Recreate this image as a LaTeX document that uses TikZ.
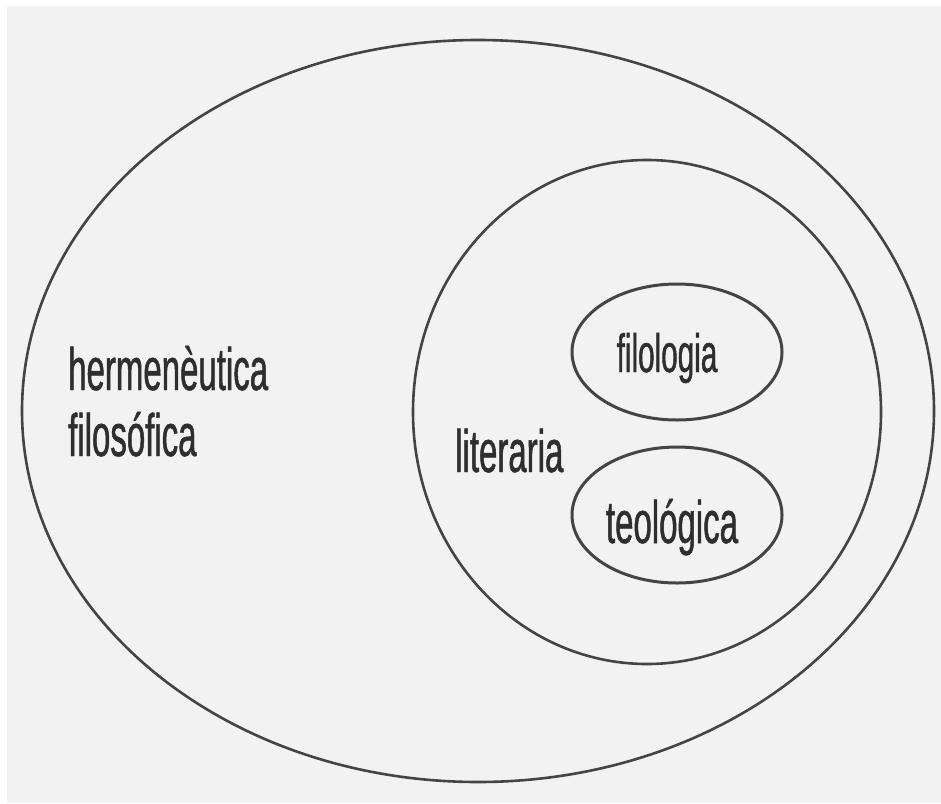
\documentclass[tikz,border=0pt]{standalone}
\usepackage{fontspec}
\newfontfamily\narrowfont[FakeStretch=0.55,FakeBold=0.8]{Liberation Sans}
\definecolor{bg}{HTML}{F2F2F2}
\definecolor{ln}{HTML}{444444}
\definecolor{tx}{HTML}{2E2E2E}
\begin{document}
\begin{tikzpicture}[x=1pt,y=-1pt,
  ring/.style={draw=ln,line width=2.6pt},
  lbl/.style={inner sep=0pt,text=tx,font=\narrowfont\fontsize{60}{62}\selectfont}]
\useasboundingbox (0,0) rectangle (941,803);
\fill[white] (0,0) rectangle (941,803);
\fill[bg] (7,6) rectangle (941,803);
\draw[ring] (478,411) ellipse [x radius=456, y radius=371];
\draw[ring] (647,412) ellipse [x radius=234, y radius=252];
\draw[ring,line width=3pt] (677,352) ellipse [x radius=105, y radius=68];
\draw[ring,line width=3pt] (677,515) ellipse [x radius=105, y radius=68];
\node[lbl,anchor=base west] (h1) at (68,390) {hermenèutica};
\node[lbl,anchor=base west] (h2) at (68,456) {filosófica};
\node[lbl,anchor=base west] (lit) at (455,472) {literaria};
\node[lbl,anchor=base,font=\narrowfont\fontsize{54}{56}\selectfont] (fil) at (667,372) {filologia};
\node[lbl,anchor=base] (teo) at (672,543) {teológica};
\end{tikzpicture}
\end{document}
